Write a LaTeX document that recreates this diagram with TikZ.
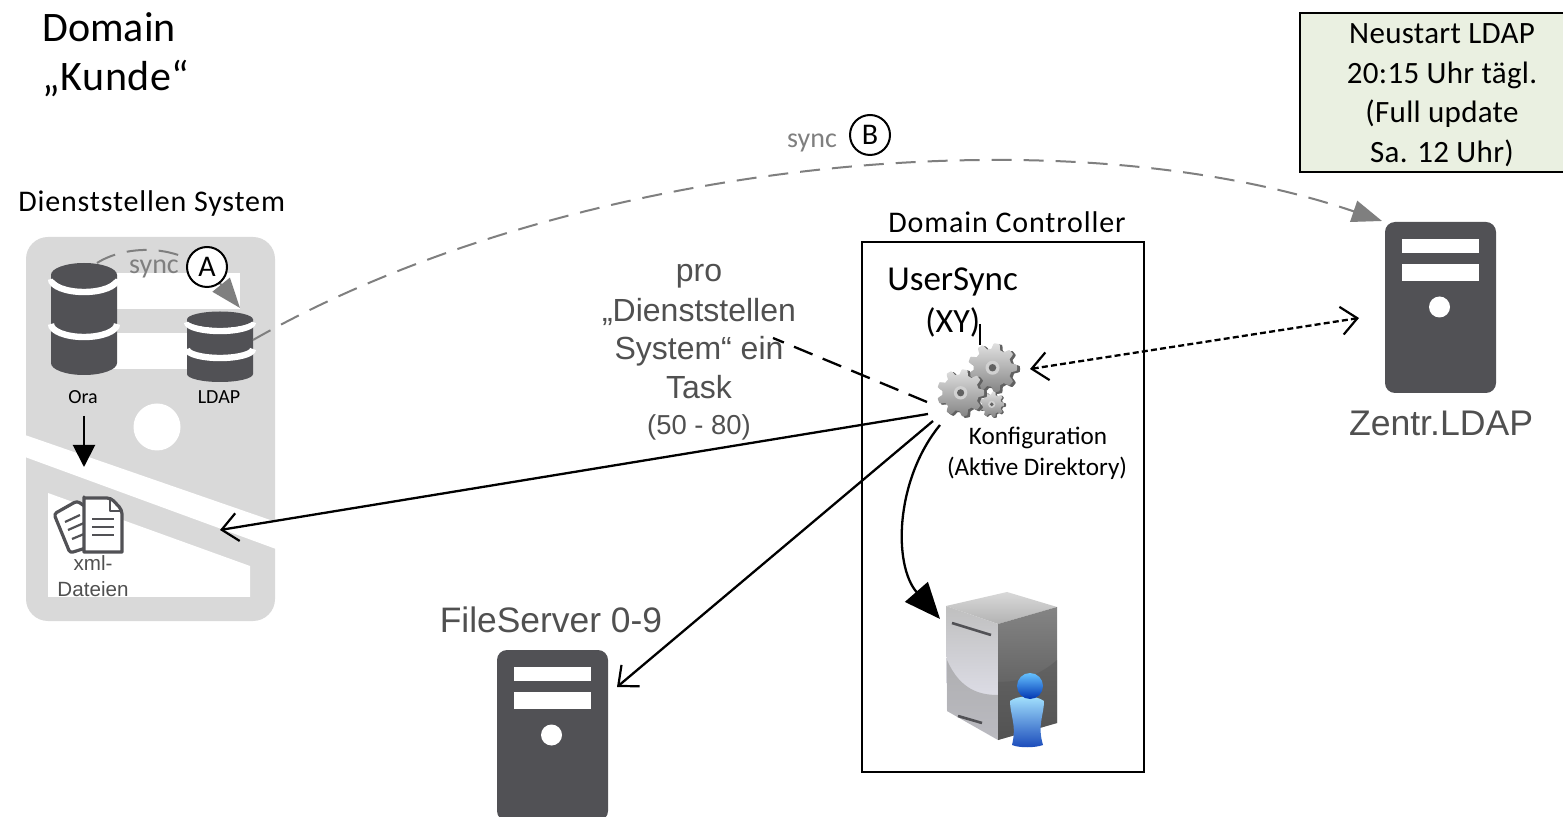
\documentclass[tikz,border=0pt]{standalone}
\usepackage{fontspec}
\setmainfont{Carlito}
\newfontfamily\arialf{Liberation Sans}
\usetikzlibrary{arrows.meta,calc}
\definecolor{icondark}{HTML}{515155}
\definecolor{devgray}{HTML}{D9D9D9}
\definecolor{syncgray}{HTML}{7F7F7F}
\definecolor{armtext}{HTML}{505050}
\definecolor{notegreen}{HTML}{EAF0E1}
\newcommand{\fs}[1]{\fontsize{#1}{#1}\selectfont}
\newcommand{\ls}[1]{\addfontfeatures{LetterSpace=#1}}
\newcommand{\servericon}[2]{%
  \begin{scope}[shift={(#1,#2)}]
    \fill[icondark,rounded corners=5pt] (0,0) rectangle (111,171);
    \fill[white] (17,17) rectangle (94,31);
    \fill[white] (17,42) rectangle (94,59);
    \fill[white] (54.5,85) circle (10.5);
  \end{scope}}
\newcommand{\dbicon}[7]{% x left, width, top, ry, bottom, arc1 edge y, arc2 edge y
  \fill[icondark] (#1,#3) -- (#1+#2,#3) -- (#1+#2,#5-#4)
     arc[start angle=360,end angle=180,x radius=#2/2,y radius=-#4] -- cycle;
  \draw[white,line width=3.2pt] (#1,#6) arc[start angle=180,end angle=360,x radius=#2/2,y radius=-#4-1];
  \draw[white,line width=3.2pt] (#1,#7) arc[start angle=180,end angle=360,x radius=#2/2,y radius=-#4-1];
  \fill[icondark] (#1+#2/2,#3) ellipse[x radius=#2/2,y radius=#4];
}
\newcommand{\gearicon}[3]{%
  \begin{scope}[shift={(#1,#2)}]
    \fill[black!62] plot[domain=0:360,samples=181] ({\x}:{#3*(0.89+0.11*max(-1,min(1,2*cos(9*\x))))}) -- cycle;
    \begin{scope}[shift={(-#3*0.1,-#3*0.05)}]
      \shade[top color=black!12,bottom color=black!48] plot[domain=0:360,samples=181] ({\x}:{#3*(0.87+0.11*max(-1,min(1,2*cos(9*\x))))}) -- cycle;
      \fill[black!18] (0,0) circle ({#3*0.28});
      \fill[black!62] (0,0) circle ({#3*0.15});
    \end{scope}
  \end{scope}}
\tikzset{
  x=0.5pt,y=-0.5pt,
  syncline/.style={draw=syncgray,line width=1pt,dash pattern=on 10pt off 6pt,-{Triangle[length=15pt,width=11pt,fill=syncgray]}},
  barb/.style={black,line width=1.15pt},
  marker/.style={circle,draw=black,line width=1pt,fill=white,minimum size=20pt,inner sep=0pt,font=\fs{15}},
  cal/.style={inner sep=0pt,align=center},
  ari/.style={inner sep=0pt,align=center,text=armtext,font=\arialf},
  notetext/.style={cal,anchor=base,font=\fs{15.5}\ls{1}},
  tasktext/.style={ari,anchor=base,font=\arialf\fs{16}},
}
\begin{document}
\begin{tikzpicture}
\clip (0,0) rectangle (1563,817);
\fill[white] (0,0) rectangle (1563,817);

% --- Dienststellen device
\fill[devgray,rounded corners=11pt] (26,237) rectangle (275,621);
\fill[white] (63,273) rectangle (240,309);
\fill[white] (63,333) rectangle (240,369);
\fill[white] (157,427) circle (23.5);
\fill[white] (25,435) -- (276,522) -- (276,549) -- (25,457) -- cycle;
\fill[white] (48,493) -- (250,566) -- (250,597) -- (48,597) -- cycle;
\dbicon{51}{66}{275}{12}{375}{279}{324}
\dbicon{187}{66}{319.5}{8}{382}{322}{349}

\coordinate (oraOut) at (97,263);
\coordinate (ldapIn) at (240,308);
\coordinate (ldapOut) at (253,340);
\coordinate (zentrIn) at (1382,221);
\coordinate (oraDown) at (84,416);
\coordinate (xmlTop) at (84,467);
\coordinate (xmlIn) at (220,530);
\coordinate (gearW) at (928,414);
\coordinate (gearSW) at (933,421);
\coordinate (gearS) at (940,425);
\coordinate (gearNW) at (927,402);
\coordinate (gearE) at (1030,369);
\coordinate (zentrW) at (1359,318);
\coordinate (taskEnd) at (773,338);
\coordinate (fileE) at (617,687);
\coordinate (adIn) at (940,619);
\coordinate (cursorA) at (980,324);
\coordinate (cursorB) at (980,345);

% --- documents icon
\begin{scope}[draw=icondark,line width=1.6pt,line join=round]
  \filldraw[fill=white,rounded corners=1.5pt] (54,514) -- (77,501) -- (86,507) -- (92,546) -- (70,553) -- cycle;
  \draw[line width=1.1pt] (68,530) -- (84,523) (72,539) -- (84,534) (65,522) -- (80,515);
  \filldraw[fill=white,rounded corners=2pt] (84,501) -- (84,548) .. controls (84,551) and (85,552) .. (88,552) -- (118,552) .. controls (121,552) and (122,551) .. (122,548) -- (122,510) -- (111,498) -- (88,498) .. controls (85,498) and (84,499) .. (84,501) -- cycle;
  \draw[line width=1.1pt] (110,499) -- (110,511) -- (122,511);
  \draw[line width=1.4pt] (92,519) -- (114,519) (92,527) -- (114,527) (92,535) -- (114,535);
\end{scope}

% --- sync A
\draw[syncline] (oraOut) .. controls (125,245) and (185,240) .. (ldapIn);
\node[marker] (markA) at (207,267) {A};
\node[cal,text=syncgray,font=\fs{14}] (syncA) at (154,269) {sync};
\node[cal,font=\fs{10}] (oraLbl) at (83,397) {Ora};
\node[cal,font=\fs{10}] (ldapLbl) at (219,397) {LDAP};
\draw[line width=1pt,-{Triangle[length=11pt,width=11pt]}] (oraDown) -- (xmlTop);
\node[ari,font=\arialf\fs{10.3}] (xmlLbl) at (93,576) {xml-\\[3pt]Dateien};
\node[cal,anchor=base west,font=\fs{15}\ls{2.8}] (dsLbl) at (18,212) {Dienststellen System};

% --- title
\node[cal,anchor=base west,font=\fs{21}] (title1) at (42,42) {Domain};
\node[cal,anchor=base west,font=\fs{21}\ls{1.5}] (title2) at (42,91) {„Kunde“};

% --- Note
\node[draw=black,line width=1pt,fill=notegreen,minimum width=133pt,minimum height=79.5pt,anchor=north west,inner sep=0pt] (note) at (1299,12) {};
\node[notetext] (noteA) at (1442,44) {Neustart LDAP};
\node[notetext] (noteB) at (1442,84) {20:15 Uhr tägl.};
\node[notetext] (noteC) at (1442,123) {(Full update};
\node[notetext] (noteD) at (1442,163) {Sa. 12 Uhr)};

% --- servers
\servericon{1385}{222}
\servericon{497}{650}
\node[ari,font=\arialf\fs{17.8}] (zentrLbl) at (1441,423) {Zentr.LDAP};
\node[ari,font=\arialf\fs{17.7}] (fileLbl) at (551,620) {FileServer 0-9};

% --- sync B
\draw[syncline] (ldapOut) .. controls (560,165) and (1050,108) .. (zentrIn);
\node[cal,text=syncgray,font=\fs{14}] (syncB) at (812,143) {sync};
\node[marker] (markB) at (870,135) {B};

% --- Domain Controller
\node[cal,anchor=base,font=\fs{15}\ls{2.9}] (dcLbl) at (1007,233) {Domain Controller};
\node[draw=black,line width=1pt,minimum width=141pt,minimum height=265pt,anchor=north west,inner sep=0pt] (dcBox) at (861,241) {};
\node[cal,anchor=base west,font=\fs{17.5}] (userSync) at (887,291) {UserSync};
\node[cal,anchor=base west,font=\fs{17}] (xy) at (925,333) {(XY)};
\draw[line width=0.6pt] (cursorA) -- (cursorB);
\gearicon{995}{369}{25}
\gearicon{993}{405}{13}
\gearicon{963}{394}{24}
\node[cal,font=\fs{12.6}] (konf) at (1038,438) {Konfiguration};
\node[cal,font=\fs{12.6}] (aktiv) at (1037,468) {(Aktive Direktory)};

% --- AD server icon
\shade[top color=black!15,bottom color=black!30] (946,606) -- (1007,592) -- (1057,607) -- (998,624) -- cycle;
\shade[top color=black!25,bottom color=black!35!blue!8] (946,606) -- (998,624) -- (998,740) -- (947,711) -- cycle;
\fill[black!42,opacity=.55] (947,660) .. controls (960,690) and (980,695) .. (998,695) -- (998,740) -- (947,711) -- cycle;
\shade[top color=black!48,bottom color=black!70] (998,624) -- (1057,607) -- (1057,723) -- (998,740) -- cycle;
\fill[black!65,opacity=.5] (998,682) .. controls (1020,682) and (1040,675) .. (1057,660) -- (1057,723) -- (998,740) -- cycle;
\draw[icondark,line width=1.3pt] (952,623) -- (991,635);
\draw[icondark,line width=1.3pt] (958,716) -- (982,723);
\shade[top color=blue!30!cyan!35!white,bottom color=blue!70!cyan!70!black!90] (1010,701) .. controls (1018,695) and (1036,695) .. (1044,701) .. controls (1044,715) and (1037,725) .. (1043,745) .. controls (1035,748) and (1019,748) .. (1012,745) .. controls (1017,725) and (1010,715) .. (1010,701) -- cycle;
\shade[top color=blue!40!cyan!60!white,bottom color=blue!70!cyan!70!black] (1030,686) circle (13);

% --- Connectors
\draw[barb,dash pattern=on 10pt off 5.5pt] (gearNW) -- (taskEnd);
\draw[barb,-{Straight Barb[length=8pt,width=14pt,line width=1.1pt]}] (gearW) -- (xmlIn);
\draw[barb,-{Straight Barb[length=8pt,width=14pt,line width=1.1pt]}] (gearSW) -- (fileE);
\draw[barb,-{Triangle[length=18pt,width=15pt]}] (gearS) .. controls (895,480) and (893,565) .. (adIn);
\draw[barb,dash pattern=on 3pt off 1.6pt,{Straight Barb[length=8pt,width=14pt,line width=1.1pt]}-{Straight Barb[length=8pt,width=14pt,line width=1.1pt]}] (gearE) -- (zentrW);

% --- Task label
\node[tasktext] (t1) at (699,282) {pro};
\node[tasktext] (t2) at (699,322) {„Dienststellen};
\node[tasktext] (t3) at (699,360) {System“ ein};
\node[tasktext] (t4) at (699,399) {Task};
\node[ari,anchor=base,font=\arialf\fs{13.7}] (t5) at (699,435) {(50 - 80)};
\end{tikzpicture}
\end{document}
